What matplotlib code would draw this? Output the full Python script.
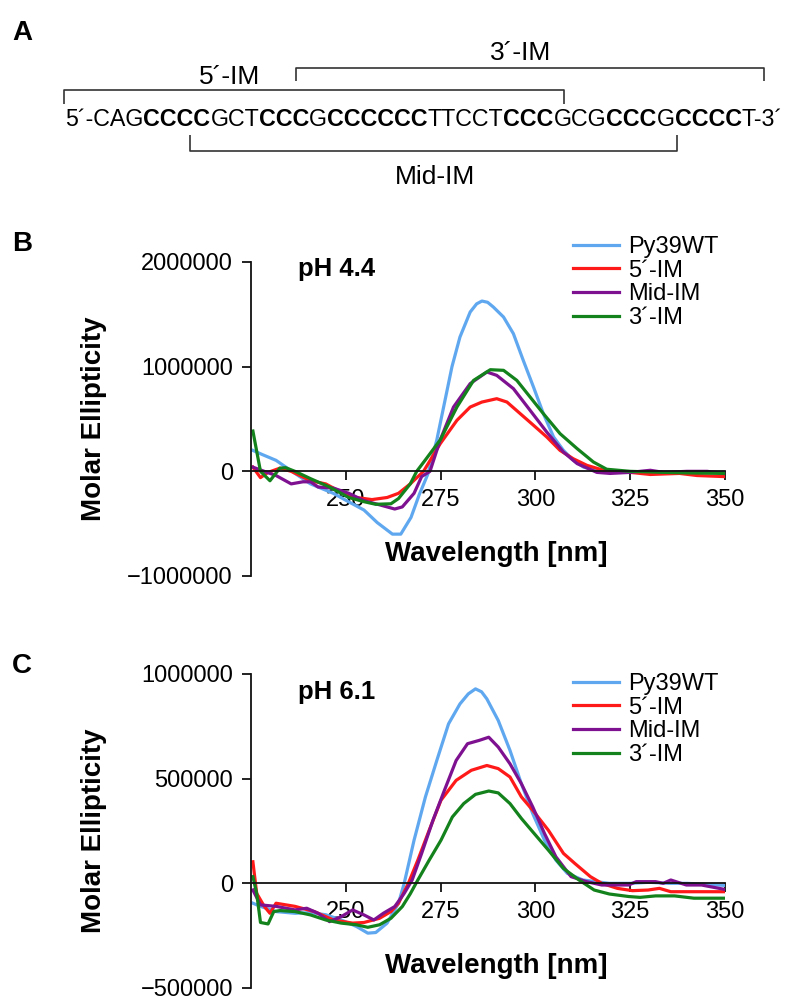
import matplotlib
matplotlib.use('Agg')
import matplotlib.pyplot as plt
from matplotlib.ticker import FuncFormatter

plt.rcParams['font.family'] = ['Liberation Sans', 'DejaVu Sans']

# ---------------- data ----------------
series_names = ["Py39WT", "5´-IM", "Mid-IM", "3´-IM"]
series_colors = ["#5FA8F0", "#FF1A1A", "#7E1190", "#14821C"]

# Panel B, pH 4.4 (molar ellipticity)
b_wt_x = [225.5, 228, 231.6, 236.6, 240.7, 246.7, 250.2, 254.8, 258.3, 262.3, 264.5, 267.2, 269.4, 271.6,
          274, 276, 278, 280.1, 282.8, 284.5, 285.9, 287.4, 288.9, 291.6, 294.2, 296.8, 299.5, 302.1,
          304.8, 307.4, 310, 312.7, 316.2, 320, 325, 330, 335, 340, 345, 350]
b_wt_y = [200000, 160000, 105000, -20000, -120000, -210000, -280000, -370000, -490000, -600000, -600000,
          -440000, -220000, -30000, 300000, 650000, 1000000, 1283000, 1522000, 1600000, 1627000, 1615000,
          1570000, 1474000, 1315000, 1060000, 805000, 551000, 328000, 200000, 105000, 40000, 10000, 0,
          -5000, 0, -10000, -5000, -10000, -10000]

b_5im_x = [225.5, 227.5, 229.5, 232.6, 235.6, 240.7, 244.7, 248.8, 252.8, 256.9, 260.9, 263.9, 267, 270.5,
           274.9, 279.3, 282.8, 285.9, 289.8, 292.5, 296, 299.5, 303, 306.5, 310, 313.6, 318, 325, 330.3,
           338, 342.6, 349.6]
b_5im_y = [40000, -60000, -10000, 30000, 0, -90000, -120000, -200000, -250000, -270000, -250000, -210000,
           -120000, 0, 264000, 487000, 614000, 662000, 694000, 662000, 551000, 440000, 328000, 200000,
           120000, 57000, 10000, -10000, -30000, -20000, -40000, -50000]

b_mid_x = [225.5, 228.5, 231.6, 235.6, 238.7, 240.7, 242.7, 246.7, 250.8, 254.8, 258.9, 262.9, 264.9, 268,
           270, 272.2, 274.9, 278.4, 282.8, 287.2, 289.8, 294.2, 298.6, 303, 307.4, 311, 316.2, 319.7,
           325, 330.3, 333.8, 340, 345.3, 349.6]
b_mid_y = [40000, 0, -40000, -120000, -100000, -100000, -150000, -160000, -210000, -280000, -320000,
           -360000, -340000, -210000, -50000, 0, 300000, 614000, 838000, 949000, 917000, 790000, 583000,
           375000, 184000, 74000, -10000, -20000, -10000, 10000, -10000, 0, 0, -20000]

b_3im_x = [225.5, 227.5, 230, 232.6, 234.1, 236.6, 240.7, 245.7, 250.8, 254.8, 257.9, 261.9, 263.9, 267,
           268.7, 271, 274.9, 279.3, 283.7, 288.1, 291.6, 295.1, 298.6, 302.1, 306.5, 311, 315.3, 318.8,
           325, 333.8, 340, 349.6]
b_3im_y = [385000, 0, -90000, 30000, 35000, 0, -70000, -150000, -250000, -290000, -315000, -310000,
           -260000, -120000, 0, 110000, 300000, 614000, 869000, 971000, 965000, 869000, 710000, 551000,
           360000, 217000, 89000, 20000, 0, -10000, -15000, -20000]

# Panel C, pH 6.1
c_wt_x = [225.5, 227.5, 231.6, 236.6, 240.7, 244.7, 248.8, 252.8, 255.8, 257.9, 260.9, 263.9, 265.4, 268,
          271, 274, 277.1, 280.1, 282.3, 284.2, 285.8, 287.2, 290.2, 293.3, 296.3, 299.3, 302.4, 305.4,
          308.4, 312.5, 319.5, 325, 330, 335, 340, 345, 350]
c_wt_y = [-95000, -110000, -135000, -143000, -140000, -150000, -175000, -206000, -238000, -235000,
          -190000, -95000, 0, 206000, 413000, 587000, 762000, 857000, 905000, 929000, 915000, 881000,
          778000, 635000, 476000, 333000, 206000, 111000, 48000, 16000, 0, 0, 5000, 0, 0, -5000, -10000]

c_5im_x = [225.5, 226.5, 227.5, 228.5, 230, 231.6, 236.6, 241.7, 246.7, 251.8, 254.8, 258.9, 261.9, 263.9,
           266.5, 269, 272, 275.1, 279.1, 283.1, 287.2, 290.2, 293.3, 296.3, 299.3, 303.4, 307.4, 310.4,
           314.5, 317.5, 321.6, 325.6, 329.7, 332.7, 335.7, 341.8, 349.9]
c_5im_y = [103000, -48000, -79000, -110000, -143000, -95000, -110000, -135000, -175000, -190000,
           -187000, -167000, -135000, -95000, 0, 111000, 254000, 397000, 492000, 540000, 563000, 548000,
           508000, 413000, 349000, 254000, 143000, 95000, 32000, 0, -24000, -35000, -32000, -24000,
           -40000, -40000, -40000]

c_mid_x = [225.5, 227.5, 231.6, 236.6, 239.7, 242.7, 245.7, 248.8, 251.8, 254.8, 257.4, 259.9, 262.9,
           265.4, 267.5, 270, 273, 276, 279.1, 282.1, 285.2, 287.7, 290.2, 293.3, 296.3, 299.3, 302.4,
           305.4, 309.4, 313.5, 317.5, 324.6, 326.6, 331.7, 333.7, 335.7, 339.8, 343.8, 349.9]
c_mid_y = [-32000, -103000, -110000, -127000, -119000, -143000, -183000, -159000, -127000, -151000,
           -175000, -143000, -111000, -48000, 16000, 143000, 302000, 444000, 587000, 667000, 683000,
           698000, 651000, 571000, 476000, 365000, 238000, 127000, 32000, 8000, -8000, -8000, 8000,
           8000, 0, 16000, -8000, -8000, -29000]

c_3im_x = [225.5, 226.5, 227.5, 229.5, 231, 232.6, 236.6, 240.7, 244.7, 248.8, 252.8, 255.8, 258.9, 261.9,
           264.9, 267, 269, 272, 275.1, 278.1, 281.1, 284.2, 287.7, 290.2, 293.3, 296.3, 299.3, 303.4,
           307.4, 311.5, 315.5, 319.5, 324.6, 327.6, 331.7, 336.7, 341.8, 349.9]
c_3im_y = [32000, -48000, -187000, -194000, -135000, -130000, -135000, -151000, -175000, -190000,
           -198000, -210000, -198000, -167000, -111000, -50000, 16000, 111000, 206000, 317000, 381000,
           425000, 441000, 432000, 381000, 310000, 246000, 159000, 71000, 16000, -32000, -51000, -63000,
           -67000, -60000, -60000, -71000, -71000]

x_ticks = [250, 275, 300, 325, 350]
b_yticks = [-1000000, 0, 1000000, 2000000]
c_yticks = [-500000, 0, 500000, 1000000]

seq_parts = [("5´-CAG", False), ("CCCC", True), ("GCT", False), ("CCC", True), ("G", False),
             ("CCCCCC", True), ("TTCCT", False), ("CCC", True), ("GCG", False), ("CCC", True),
             ("G", False), ("CCCC", True), ("T-3´", False)]

# ---------------- figure ----------------
W, H = 800, 1007
fig = plt.figure(figsize=(W / 100, H / 100), dpi=100)


def px_axes(left, top, right, bottom):
    return fig.add_axes([left / W, 1 - bottom / H, (right - left) / W, (bottom - top) / H])


def fmt(v, _):
    s = f"{int(round(v))}"
    return s.replace("-", "\u2212")


def style_panel(ax, yticks, ph_text, ph_y, legend_top):
    ax.spines['top'].set_visible(False)
    ax.spines['right'].set_visible(False)
    ax.spines['bottom'].set_position(('data', 0))
    for s in ('left', 'bottom'):
        ax.spines[s].set_linewidth(1.3)
        ax.spines[s].set_color('#111111')
    ax.set_xlim(225, 350)
    ax.set_ylim(yticks[0], yticks[-1])
    ax.set_xticks(x_ticks)
    ax.set_yticks(yticks)
    ax.yaxis.set_major_formatter(FuncFormatter(fmt))
    ax.tick_params(axis='both', direction='out', length=6.5, width=1.3, labelsize=17, pad=6.5,
                   color='#111111')
    ax.set_xlabel('Wavelength [nm]', fontsize=20, fontweight='bold')
    ax.xaxis.set_label_coords(0.517, 0.11)
    ax.set_ylabel('Molar Ellipticity', fontsize=20, fontweight='bold')
    ax.yaxis.set_label_coords(-0.304, 0.5)
    ax.text(0.099, ph_y, ph_text, transform=ax.transAxes, fontsize=18.5, fontweight='bold',
            ha='left', va='center')
    ax.legend(loc='upper left', bbox_to_anchor=(0.679, legend_top), frameon=False, fontsize=17,
              handlelength=1.95, handletextpad=0.38, labelspacing=0.07, borderpad=0,
              borderaxespad=0)


axB = px_axes(251, 262, 725, 576)
axC = px_axes(251, 674, 725, 988)

for xs, ys, name, col in zip([b_wt_x, b_5im_x, b_mid_x, b_3im_x], [b_wt_y, b_5im_y, b_mid_y, b_3im_y],
                             series_names, series_colors):
    axB.plot(xs, ys, color=col, lw=2.3, label=name, solid_joinstyle='round')
for xs, ys, name, col in zip([c_wt_x, c_5im_x, c_mid_x, c_3im_x], [c_wt_y, c_5im_y, c_mid_y, c_3im_y],
                             series_names, series_colors):
    axC.plot(xs, ys, color=col, lw=2.3, label=name, solid_joinstyle='round')

style_panel(axB, b_yticks, 'pH 4.4', 0.978, 1.083)
style_panel(axC, c_yticks, 'pH 6.1', 0.944, 1.003)

# panel letters
for letter, base in [("A", 40), ("B", 251), ("C", 673)]:
    fig.text(12 / W, 1 - base / H, letter, fontsize=20, fontweight='bold', ha='left', va='baseline')

# ---------------- panel A ----------------
axA = px_axes(0, 0, 800, 200)
axA.set_xlim(0, 800)
axA.set_ylim(200, 0)
axA.axis('off')

renderer = fig.canvas.get_renderer()
seq_left, seq_right, seq_base = 65, 783, 126
base_size = 16
tmp = [axA.text(0, seq_base, t, fontsize=base_size, fontweight='bold' if b else 'normal')
       for t, b in seq_parts]
total = sum(t.get_window_extent(renderer).width for t in tmp)
for t in tmp:
    t.remove()
size = base_size * (seq_right - seq_left) / total
x = seq_left
for t, b in seq_parts:
    txt = axA.text(x, seq_base, t, fontsize=size, fontweight='bold' if b else 'normal',
                   ha='left', va='baseline')
    x += txt.get_window_extent(renderer).width

bk = dict(color='#333333', lw=1.2, solid_capstyle='butt')
# 3'-IM bracket
axA.plot([296, 296, 764, 764], [81, 67.7, 67.7, 81], **bk)
# 5'-IM bracket
axA.plot([64, 64, 564, 564], [104, 90, 90, 104], **bk)
# Mid-IM bracket
axA.plot([190, 190, 677, 677], [135, 151, 151, 135], **bk)

axA.text(521, 59.5, "3´-IM", fontsize=19, ha='center', va='baseline')
axA.text(230, 83.5, "5´-IM", fontsize=19, ha='center', va='baseline')
axA.text(435, 184.5, "Mid-IM", fontsize=19, ha='center', va='baseline')

fig.savefig('out.png', dpi=100)
